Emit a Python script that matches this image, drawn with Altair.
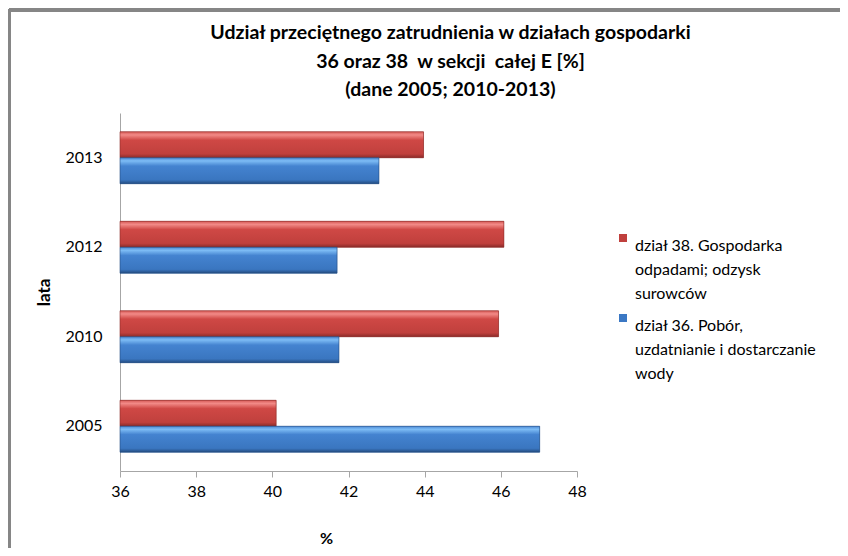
import altair as alt
import pandas as pd

years = ["2005", "2010", "2012", "2013"]
dzial36 = [47.02, 41.75, 41.70, 42.80]
dzial38 = [40.10, 45.94, 46.08, 43.97]
series = ["dział 38", "dział 36"]
legend_lines = {
    "dział 38": ["dział 38. Gospodarka", "odpadami; odzysk", "surowców"],
    "dział 36": ["dział 36. Pobór,", "uzdatnianie i dostarczanie", "wody"],
}
x_ticks = [36, 38, 40, 42, 44, 46, 48]
title_lines = [
    "Udział przeciętnego zatrudnienia w działach gospodarki",
    "36 oraz 38\u00a0 w sekcji\u00a0 całej E [%]",
    "(dane 2005; 2010-2013)",
]

rows = []
for i, y in enumerate(years):
    rows.append({"rok": y, "seria": "dział 38", "wartosc": dzial38[i]})
    rows.append({"rok": y, "seria": "dział 36", "wartosc": dzial36[i]})
df = pd.DataFrame(rows)

FONT = "Lato"

label_expr = " : ".join(
    [f"datum.value == '{k}' ? {v!r}" for k, v in legend_lines.items()] + ["datum.label"]
)

y_enc = alt.Y("rok:N", sort="descending",
              scale=alt.Scale(paddingInner=0.42, paddingOuter=0.21),
              axis=alt.Axis(title="lata", ticks=False, domainColor="#a6a6a6",
                            labelPadding=18, titlePadding=11, labelFontSize=16,
                            titleFontSize=17, titleFontWeight="bold"))
yoff_enc = alt.YOffset("seria:N", sort=series)
x_enc = alt.X("wartosc:Q",
              scale=alt.Scale(domain=[36, 48], zero=False),
              axis=alt.Axis(title="%", values=x_ticks, grid=False, domainColor="#a6a6a6",
                            tickColor="#a6a6a6", tickSize=6, labelPadding=6,
                            labelFlush=False,
                            labelFontSize=16, titleFontSize=16, titleFontWeight="bold",
                            titleX=206, titleY=67, titleBaseline="middle"))

base = alt.Chart(df).mark_bar(stroke=None).encode(
    x=x_enc,
    x2=alt.datum(36),
    y=y_enc,
    yOffset=yoff_enc,
    color=alt.Color("seria:N", sort=series,
                    scale=alt.Scale(domain=series, range=["#c0403d", "#3b78c4"]),
                    legend=alt.Legend(title=None, orient="none", legendX=495, legendY=117,
                                      labelExpr=label_expr, labelFontSize=16,
                                      labelFont=FONT, symbolType="square", symbolSize=64,
                                      labelBaseline="top", labelOffset=4,
                                      rowPadding=8, padding=0, labelLimit=300)),
)

red_grad = alt.Gradient(gradient="linear", x1=0, y1=0, x2=0, y2=1, stops=[
    alt.GradientStop(color="#d65956", offset=0),
    alt.GradientStop(color="#f28a87", offset=0.12),
    alt.GradientStop(color="#cf4845", offset=0.32),
    alt.GradientStop(color="#c0403d", offset=0.85),
    alt.GradientStop(color="#8a2b29", offset=1),
])
blue_grad = alt.Gradient(gradient="linear", x1=0, y1=0, x2=0, y2=1, stops=[
    alt.GradientStop(color="#4c8ad6", offset=0),
    alt.GradientStop(color="#7dbcf5", offset=0.12),
    alt.GradientStop(color="#4483d0", offset=0.32),
    alt.GradientStop(color="#3a76c0", offset=0.85),
    alt.GradientStop(color="#244c80", offset=1),
])

red_layer = alt.Chart(df).transform_filter(alt.datum.seria == "dział 38").mark_bar(
    color=red_grad, stroke="#8a2b29", strokeWidth=0.6).encode(
    x=x_enc, x2=alt.datum(36), y=y_enc, yOffset=yoff_enc)
blue_layer = alt.Chart(df).transform_filter(alt.datum.seria == "dział 36").mark_bar(
    color=blue_grad, stroke="#244c80", strokeWidth=0.6).encode(
    x=x_enc, x2=alt.datum(36), y=y_enc, yOffset=yoff_enc)

frame_top = alt.Chart(df).mark_rule(color="#868686", strokeWidth=3).encode(
    x=alt.value(-111), x2=alt.value(740), y=alt.value(-103))
frame_left = alt.Chart(df).mark_rule(color="#868686", strokeWidth=3).encode(
    x=alt.value(-111), y=alt.value(-104), y2=alt.value(440))

chart = alt.layer(base, red_layer, blue_layer, frame_top, frame_left).properties(
    width=457, height=358,
    autosize=alt.AutoSizeParams(type="none"),
    padding={"left": 112, "top": 105, "right": 263, "bottom": 77},
    title=alt.Title(title_lines, anchor="middle", frame="group", dx=102, offset=-93,
                    fontSize=19.5, font=FONT, fontWeight="bold", lineHeight=28.5,
                    color="#000000"),
).configure(
    font=FONT, style={"guide-label": {"lineHeight": 24}}
).configure_axis(
    labelFont=FONT, titleFont=FONT, labelColor="#000000", titleColor="#000000"
).configure_view(stroke=None).configure_legend(labelColor="#000000")

chart.save("out.html", embed_options={"renderer": "svg", "actions": False})
